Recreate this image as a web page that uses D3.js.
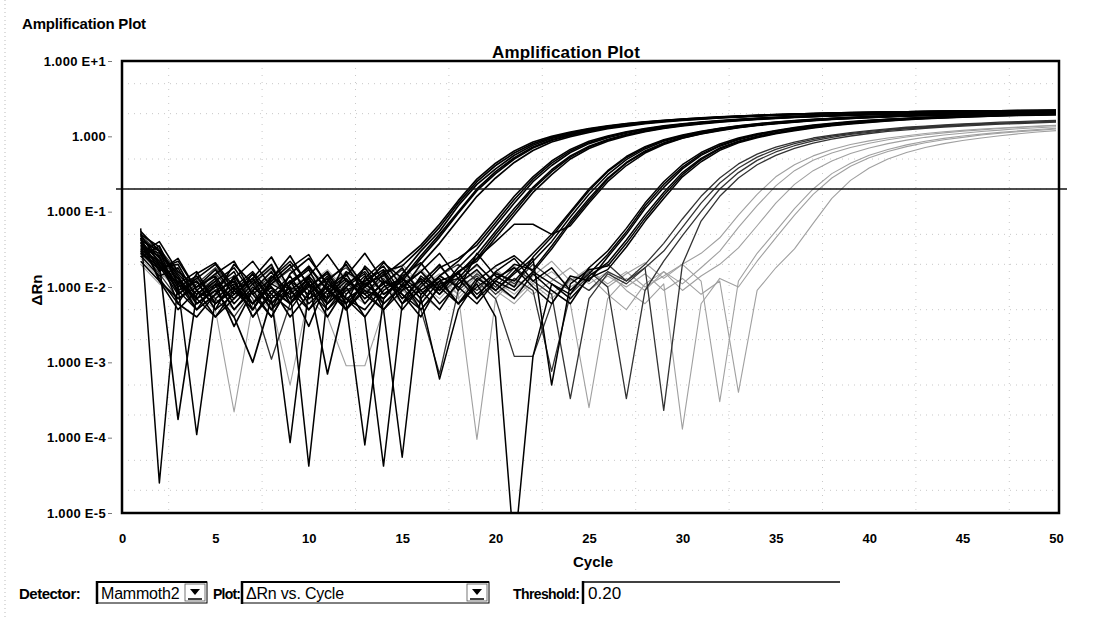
<!DOCTYPE html>
<meta charset="utf-8">
<script src="https://d3js.org/d3.v7.min.js"></script>
<style>
body { margin: 0; background: #fff; }
text { font-family: "Liberation Sans", Arial, sans-serif; }
.tick text { font-weight: bold; font-size: 13px; fill: #000; }
.ctl text { font-family: "Liberation Sans Narrow", "Liberation Sans", Arial, sans-serif; }
</style>
<body>
<script>

// Cycle numbers (x categories)
var cycles = [1,2,3,4,5,6,7,8,9,10,11,12,13,14,15,16,17,18,19,20,21,22,23,24,25,
              26,27,28,29,30,31,32,33,34,35,36,37,38,39,40,41,42,43,44,45,46,47,48,49,50];

// Delta Rn readings, one row per well, grouped by rough Ct
var group1Rn = [
  [.055,.03,.014,.006,.009,.004,.001,.007,.012,.005,.009,.006,.011,.014,.022,.036,.068,.14,.27,.44,.64,.84,1.0,1.14,1.27,1.38,1.48,1.56,1.63,1.7,1.76,1.81,1.86,1.9,1.94,1.98,2.01,2.04,2.06,2.08,2.1,2.12,2.14,2.15,2.16,2.17,2.18,2.19,2.2,2.21],
  [.04,.022,.009,.012,.005,.014,.006,.01,.004,.008,.013,.005,.009,.007,.015,.03,.055,.12,.23,.37,.56,.76,.94,1.08,1.22,1.33,1.44,1.53,1.61,1.67,1.73,1.79,1.84,1.89,1.93,1.97,2.0,2.03,2.05,2.07,2.09,2.11,2.13,2.15,2.16,2.17,2.18,2.19,2.2,2.21],
  [.03,.018,.02,.007,.011,.003,.009,.016,.006,.011,.004,.01,.018,.008,.012,.024,.046,.095,.19,.32,.5,.7,.88,1.03,1.17,1.29,1.4,1.5,1.58,1.65,1.71,1.77,1.82,1.87,1.91,1.95,1.98,2.01,2.04,2.06,2.08,2.1,2.12,2.14,2.15,2.16,2.17,2.18,2.19,2.2],
  [.025,.035,.011,.016,.006,.01,.005,.012,.02,.007,.01,.015,.006,.012,.009,.02,.038,.078,.16,.28,.45,.65,.84,.99,1.13,1.26,1.37,1.47,1.55,1.63,1.69,1.75,1.8,1.85,1.9,1.94,1.97,2.0,2.03,2.05,2.07,2.09,2.11,2.13,2.14,2.15,2.16,2.17,2.18,2.19],
  [.045,.012,.007,.01,.017,.008,.013,.025,.009,.014,.007,.022,.01,.016,.019,.033,.062,.13,.25,.41,.6,.8,.97,1.11,1.25,1.36,1.46,1.55,1.62,1.69,1.75,1.8,1.85,1.9,1.94,1.97,2.0,2.03,2.06,2.08,2.1,2.12,2.13,2.15,2.16,2.17,2.18,2.19,2.2,2.21],
  [.033,.026,.006,.004,.008,.02,.011,.005,.015,.024,.011,.007,.005,.01,.013,.026,.05,.1,.2,.34,.52,.72,.9,1.05,1.19,1.31,1.42,1.51,1.59,1.66,1.72,1.78,1.83,1.88,1.92,1.96,1.99,2.02,2.05,2.07,2.09,2.11,2.13,2.14,2.15,2.16,2.17,2.18,2.19,2.2]
];
var group2Rn = [
  [.05,.02,.000175,.008,.012,.005,.009,.004,.011,.017,.006,.01,.004,.009,.013,.007,.014,.022,.04,.08,.16,.29,.47,.67,.86,1.01,1.15,1.27,1.38,1.47,1.55,1.62,1.68,1.74,1.79,1.84,1.88,1.92,1.95,1.98,2.01,2.03,2.05,2.07,2.09,2.11,2.12,2.13,2.14,2.15],
  [.035,.028,.013,.005,.008,.013,.004,.009,.006,.012,.0007,.008,.014,.006,.01,.016,.009,.018,.032,.065,.13,.25,.41,.61,.8,.96,1.1,1.23,1.34,1.44,1.52,1.59,1.66,1.72,1.77,1.82,1.86,1.9,1.93,1.96,1.99,2.01,2.03,2.05,2.07,2.09,2.1,2.11,2.12,2.13],
  [.045,.016,.024,.009,.004,.007,.015,.006,.01,.003,.012,.02,.008,.005,.011,.006,.012,.015,.027,.055,.11,.21,.36,.55,.74,.91,1.06,1.19,1.31,1.41,1.49,1.57,1.64,1.7,1.75,1.8,1.84,1.88,1.92,1.95,1.98,2.0,2.02,2.04,2.06,2.08,2.09,2.1,2.11,2.12],
  [.028,.04,.016,.01,.014,.006,.011,.018,.007,.013,.005,.009,.012,.017,.007,.013,.008,.016,.022,.045,.09,.18,.31,.5,.69,.86,1.01,1.15,1.27,1.37,1.46,1.54,1.61,1.67,1.73,1.78,1.82,1.86,1.9,1.93,1.96,1.99,2.01,2.03,2.05,2.07,2.08,2.09,2.1,2.11],
  [.042,.03,.008,.013,.02,.009,.005,.013,.026,.01,.016,.006,.019,.011,.005,.01,.018,.024,.036,.072,.145,.27,.44,.64,.83,.99,1.13,1.25,1.36,1.45,1.53,1.6,1.67,1.73,1.78,1.83,1.87,1.91,1.94,1.97,2.0,2.02,2.04,2.06,2.08,2.1,2.11,2.12,2.13,2.14],
  [.022,.012,.005,.009,.015,.022,.008,.004,.011,.019,.009,.014,.028,.012,.008,.004,.011,.013,.024,.05,.1,.2,.34,.53,.72,.89,1.04,1.17,1.29,1.39,1.48,1.56,1.63,1.69,1.74,1.79,1.83,1.87,1.91,1.94,1.97,1.99,2.01,2.03,2.05,2.07,2.08,2.09,2.1,2.11]
];
var group3Rn = [
  [.06,.000025,.012,.007,.01,.016,.005,.011,.008,.013,.006,.01,.015,.005,.009,.012,.006,.011,.017,.009,.016,.028,.05,.1,.2,.35,.54,.73,.9,1.04,1.17,1.28,1.38,1.47,1.55,1.62,1.68,1.74,1.79,1.84,1.88,1.92,1.95,1.98,2.01,2.03,2.05,2.07,2.09,2.1],
  [.038,.025,.01,.014,.006,.009,.013,.005,.009,.000042,.008,.013,.007,.011,.018,.008,.012,.006,.01,.015,.012,.022,.04,.085,.17,.31,.49,.68,.86,1.0,1.13,1.25,1.35,1.44,1.52,1.59,1.66,1.72,1.77,1.82,1.86,1.9,1.93,1.96,1.99,2.01,2.03,2.05,2.07,2.08],
  [.032,.02,.009,.005,.011,.007,.012,.02,.006,.01,.015,.007,.004,.000042,.006,.014,.009,.016,.007,.012,.02,.017,.035,.075,.15,.28,.45,.64,.82,.97,1.1,1.22,1.32,1.41,1.49,1.56,1.63,1.69,1.74,1.79,1.83,1.87,1.9,1.93,1.96,1.98,2.0,2.02,2.04,2.05],
  [.026,.014,.018,.006,.009,.012,.004,.008,.014,.006,.01,.005,.012,.019,.008,.005,.01,.016,.024,.04,.068,.068,.05,.065,.13,.25,.41,.6,.78,.94,1.07,1.19,1.3,1.39,1.47,1.54,1.61,1.67,1.72,1.77,1.81,1.85,1.88,1.91,1.94,1.96,1.98,2.0,2.02,2.03],
  [.05,.034,.011,.005,.008,.013,.022,.01,.006,.014,.027,.012,.008,.015,.006,.011,.02,.009,.028,.014,.01,.025,.046,.095,.19,.34,.52,.71,.88,1.02,1.15,1.27,1.37,1.46,1.54,1.61,1.67,1.73,1.78,1.83,1.87,1.91,1.94,1.97,2.0,2.02,2.04,2.06,2.08,2.09],
  [.028,.019,.013,.007,.004,.009,.015,.007,.012,.018,.009,.005,.01,.021,.013,.007,.0006,.005,.012,.019,.026,.016,.032,.07,.14,.27,.44,.62,.8,.95,1.08,1.2,1.31,1.4,1.48,1.55,1.62,1.68,1.73,1.78,1.82,1.86,1.89,1.92,1.95,1.97,1.99,2.01,2.03,2.04]
];
var group4Rn = [
  [.048,.024,.01,.00011,.007,.011,.006,.014,.009,.005,.012,.007,.01,.016,.006,.009,.013,.006,.011,.004,.000003,.0012,.011,.008,.018,.03,.06,.13,.25,.42,.61,.79,.95,1.08,1.2,1.31,1.41,1.49,1.57,1.63,1.69,1.74,1.79,1.83,1.87,1.9,1.93,1.96,1.98,2.0],
  [.036,.019,.008,.012,.005,.008,.013,.007,.000086,.009,.005,.011,.016,.008,.012,.005,.01,.015,.008,.013,.018,.01,.006,.014,.012,.025,.05,.11,.21,.37,.56,.74,.9,1.04,1.16,1.27,1.37,1.46,1.54,1.61,1.67,1.72,1.77,1.81,1.85,1.88,1.91,1.94,1.96,1.98],
  [.042,.03,.015,.008,.013,.005,.01,.006,.012,.008,.014,.006,.00008,.007,.013,.009,.005,.012,.02,.011,.007,.015,.009,.006,.014,.021,.042,.09,.18,.33,.51,.7,.86,1.0,1.12,1.23,1.33,1.42,1.5,1.57,1.63,1.69,1.74,1.78,1.82,1.86,1.89,1.92,1.94,1.96],
  [.028,.017,.022,.009,.006,.01,.016,.008,.005,.011,.007,.012,.009,.005,.000055,.008,.014,.01,.006,.012,.009,.016,.011,.007,.013,.017,.034,.075,.15,.29,.46,.65,.82,.96,1.08,1.19,1.29,1.38,1.46,1.53,1.6,1.66,1.71,1.75,1.79,1.83,1.86,1.89,1.91,1.93],
  [.039,.013,.006,.015,.021,.01,.006,.011,.018,.027,.01,.005,.013,.022,.01,.016,.028,.013,.007,.016,.024,.012,.018,.009,.015,.027,.054,.12,.23,.39,.58,.76,.92,1.06,1.18,1.29,1.39,1.47,1.55,1.62,1.68,1.73,1.78,1.82,1.86,1.89,1.92,1.95,1.97,1.99],
  [.031,.022,.011,.007,.012,.018,.008,.013,.022,.011,.006,.016,.011,.007,.014,.021,.01,.006,.013,.009,.015,.024,.0005,.011,.017,.019,.038,.082,.165,.31,.49,.68,.84,.98,1.1,1.21,1.31,1.4,1.48,1.55,1.61,1.67,1.72,1.76,1.8,1.84,1.87,1.9,1.92,1.94]
];
var group5Rn = [
  [.052,.026,.012,.006,.01,.014,.007,.0011,.006,.012,.008,.013,.007,.011,.017,.009,.014,.02,.012,.007,.0012,.0012,.006,.013,.009,.016,.012,.02,.038,.08,.16,.28,.43,.58,.72,.84,.95,1.04,1.12,1.19,1.26,1.32,1.37,1.42,1.46,1.5,1.54,1.57,1.6,1.63],
  [.034,.021,.009,.013,.007,.004,.009,.014,.007,.01,.016,.008,.012,.006,.01,.005,.0007,.009,.015,.01,.018,.012,.008,.00033,.007,.015,.011,.018,.03,.062,.13,.24,.38,.53,.67,.8,.91,1.01,1.09,1.16,1.23,1.29,1.34,1.39,1.43,1.47,1.5,1.53,1.56,1.59],
  [.044,.032,.016,.01,.015,.008,.012,.005,.01,.007,.013,.018,.01,.006,.011,.016,.008,.013,.009,.016,.011,.02,.013,.009,.016,.01,.00033,.009,.022,.048,.1,.2,.33,.48,.62,.75,.87,.97,1.06,1.13,1.2,1.26,1.31,1.36,1.4,1.44,1.48,1.51,1.54,1.57],
  [.03,.015,.007,.011,.018,.009,.006,.011,.017,.009,.006,.011,.008,.013,.007,.012,.019,.01,.014,.008,.013,.009,.00076,.008,.014,.02,.012,.018,.00023,.02,.075,.16,.28,.42,.56,.69,.81,.92,1.01,1.09,1.16,1.22,1.28,1.33,1.37,1.41,1.45,1.48,1.51,1.54]
];
var group6Rn = [
  [.038,.02,.012,.008,.005,.00022,.006,.012,.008,.015,.01,.006,.012,.009,.014,.02,.011,.007,.013,.018,.01,.015,.009,.006,.00025,.007,.013,.009,.016,.011,.018,.03,.062,.12,.22,.35,.48,.6,.71,.81,.9,.98,1.05,1.11,1.17,1.22,1.27,1.31,1.35,1.39],
  [.024,.013,.017,.009,.013,.007,.011,.017,.01,.007,.004,.0009,.0009,.005,.009,.006,.012,.008,.014,.009,.006,.011,.016,.01,.014,.008,.005,.011,.016,.009,.014,.02,.033,.065,.13,.23,.35,.47,.59,.7,.8,.89,.97,1.04,1.1,1.16,1.21,1.26,1.3,1.34],
  [.032,.018,.01,.006,.01,.014,.008,.005,.01,.014,.008,.012,.007,.011,.006,.01,.015,.008,.000095,.007,.013,.008,.012,.018,.011,.016,.009,.006,.011,.00013,.006,.013,.01,.022,.045,.09,.17,.28,.4,.52,.63,.73,.82,.9,.97,1.04,1.1,1.15,1.2,1.25],
  [.02,.011,.007,.012,.008,.005,.009,.013,.007,.011,.017,.009,.006,.01,.015,.008,.005,.011,.016,.01,.007,.012,.008,.013,.009,.014,.01,.015,.009,.013,.008,.012,.0004,.009,.018,.032,.07,.15,.26,.38,.5,.61,.71,.8,.88,.95,1.02,1.08,1.14,1.19],
  [.027,.016,.009,.014,.009,.006,.012,.019,.009,.006,.011,.016,.009,.013,.02,.011,.007,.013,.019,.012,.008,.014,.022,.012,.018,.01,.015,.021,.013,.02,.028,.045,.09,.17,.29,.42,.55,.67,.78,.87,.95,1.02,1.09,1.15,1.2,1.25,1.29,1.33,1.37,1.4],
  [.035,.024,.014,.009,.007,.012,.009,.006,.0005,.008,.013,.019,.011,.007,.012,.017,.01,.015,.009,.013,.019,.011,.007,.012,.017,.011,.016,.01,.014,.02,.012,.0003,.012,.028,.055,.11,.2,.32,.44,.56,.67,.77,.86,.94,1.01,1.07,1.13,1.18,1.23,1.28]
];

var threshold = 0.20;
var xTicks = [0,5,10,15,20,25,30,35,40,45,50];
var yTicks = [10, 1, 0.1, 0.01, 0.001, 0.0001, 0.00001];
var yTickLabels = ["1.000 E+1","1.000","1.000 E-1","1.000 E-2","1.000 E-3","1.000 E-4","1.000 E-5"];

var width = 1103, height = 618;
var plot = {left: 122, right: 1056, top: 61, bottom: 513};

var svg = d3.select("body").append("svg")
    .attr("width", width)
    .attr("height", height);

var x = d3.scaleLinear().domain([0, 50]).range([plot.left, plot.right]);
var y = d3.scaleLog().domain([1e-5, 10]).range([plot.bottom, plot.top]);

// faint window edge
svg.append("line")
    .attr("x1", 5).attr("x2", 5).attr("y1", 0).attr("y2", height)
    .attr("stroke", "#bbb").attr("stroke-dasharray", "1,3");

svg.append("text")
    .attr("x", 22).attr("y", 29)
    .attr("font-size", "15px").attr("font-weight", "bold")
    .attr("letter-spacing", "-0.2")
    .text("Amplification Plot");

svg.append("text")
    .attr("x", 566).attr("y", 58)
    .attr("text-anchor", "middle")
    .attr("font-size", "17px").attr("font-weight", "bold")
    .attr("letter-spacing", "0.2")
    .text("Amplification Plot");

svg.append("clipPath").attr("id", "clip")
  .append("rect")
    .attr("x", plot.left).attr("y", plot.top)
    .attr("width", x(50) + 3 - plot.left).attr("height", plot.bottom - plot.top);

// light dotted grid, like the scanned original
var grid = svg.append("g").attr("clip-path", "url(#clip)");
var minor = [];
yTicks.slice(1).forEach(function(t) { minor.push(t * 2, t * 5); });
grid.selectAll(".hg").data(minor).enter().append("line")
    .attr("x1", plot.left).attr("x2", x(50))
    .attr("y1", function(d) { return y(d); }).attr("y2", function(d) { return y(d); })
    .attr("stroke", "#c8c8c8").attr("stroke-dasharray", "1,5");
grid.selectAll(".vg").data(d3.range(2.5, 50, 5)).enter().append("line")
    .attr("x1", function(d) { return x(d); }).attr("x2", function(d) { return x(d); })
    .attr("y1", plot.top).attr("y2", plot.bottom)
    .attr("stroke", "#c8c8c8").attr("stroke-dasharray", "1,6");

var line = d3.line()
    .x(function(d, i) { return x(cycles[i]); })
    .y(function(d) { return y(d); });

var groups = [
  {rows: group6Rn, color: "#a0a0a0", w: 1.1},
  {rows: group5Rn, color: "#333", w: 1.3},
  {rows: group4Rn, color: "#000", w: 1.5},
  {rows: group3Rn, color: "#000", w: 1.5},
  {rows: group2Rn, color: "#000", w: 1.6},
  {rows: group1Rn, color: "#000", w: 1.7}
];

var curves = svg.append("g").attr("clip-path", "url(#clip)");
groups.forEach(function(g) {
  curves.selectAll(null).data(g.rows).enter().append("path")
      .attr("d", line)
      .attr("fill", "none")
      .attr("stroke", g.color)
      .attr("stroke-width", g.w)
      .attr("stroke-linejoin", "round");
});

// threshold
svg.append("line")
    .attr("x1", plot.left - 6).attr("x2", x(50) + 11)
    .attr("y1", y(threshold)).attr("y2", y(threshold))
    .attr("stroke", "#111").attr("stroke-width", 1.4);

// frame
svg.append("rect")
    .attr("x", plot.left).attr("y", plot.top)
    .attr("width", x(50) + 3 - plot.left).attr("height", plot.bottom - plot.top)
    .attr("fill", "none").attr("stroke", "#000").attr("stroke-width", 2.5);

var yAxis = d3.axisLeft(y)
    .tickValues(yTicks)
    .tickSize(4)
    .tickPadding(2)
    .tickFormat(function(d, i) { return yTickLabels[i]; });
svg.append("g")
    .attr("transform", "translate(" + (plot.left - 10) + ",0)")
    .call(yAxis)
    .call(function(g) { g.select(".domain").remove(); })
    .call(function(g) { g.selectAll(".tick line").attr("stroke", "#777"); })
    .call(function(g) { g.selectAll(".tick text").attr("font-size", 13).attr("letter-spacing", "0.3"); });

var xAxis = d3.axisBottom(x)
    .tickValues(xTicks)
    .tickSize(0)
    .tickPadding(21);
svg.append("g")
    .attr("transform", "translate(0," + plot.bottom + ")")
    .call(xAxis)
    .call(function(g) { g.select(".domain").remove(); })
    .call(function(g) { g.selectAll(".tick text").attr("font-size", 13); });

svg.append("text")
    .attr("x", 593).attr("y", 567)
    .attr("text-anchor", "middle")
    .attr("font-size", "15px").attr("font-weight", "bold")
    .text("Cycle");

svg.append("text")
    .attr("transform", "translate(42,290) rotate(-90)")
    .attr("text-anchor", "middle")
    .attr("font-size", "15px").attr("font-weight", "bold")
    .text("\u0394Rn");

// bottom control bar
var ctl = svg.append("g").attr("class", "ctl");
var cy = 599;

function dropBox(x0, w, label) {
  ctl.append("rect").attr("x", x0).attr("y", 582).attr("width", w).attr("height", 21)
      .attr("fill", "#fff").attr("stroke", "#000").attr("stroke-width", 1);
  ctl.append("line").attr("x1", x0).attr("x2", x0).attr("y1", 581).attr("y2", 604)
      .attr("stroke", "#000").attr("stroke-width", 2.5);
  ctl.append("line").attr("x1", x0).attr("x2", x0 + w).attr("y1", 582).attr("y2", 582)
      .attr("stroke", "#000").attr("stroke-width", 2);
  ctl.append("text").attr("x", x0 + 4).attr("y", cy)
      .attr("font-size", "16px").attr("letter-spacing", "-0.2").text(label);
  var bx = x0 + w - 22;
  ctl.append("rect").attr("x", bx).attr("y", 584).attr("width", 20).attr("height", 17)
      .attr("fill", "#fff").attr("stroke", "#555").attr("stroke-width", 0.8);
  ctl.append("path")
      .attr("d", "M" + (bx + 5) + ",589 L" + (bx + 15) + ",589 L" + (bx + 10) + ",595 Z")
      .attr("fill", "#000");
  ctl.append("line").attr("x1", bx + 3).attr("x2", bx + 17).attr("y1", 599).attr("y2", 599)
      .attr("stroke", "#000").attr("stroke-width", 1.5);
}

ctl.append("text").attr("x", 19).attr("y", cy)
    .attr("font-size", "15px").attr("font-weight", "bold")
    .attr("letter-spacing", "-0.5").text("Detector:");
dropBox(97, 110, "Mammoth2");
ctl.append("text").attr("x", 213).attr("y", cy)
    .attr("font-size", "14px").attr("font-weight", "bold")
    .attr("letter-spacing", "-0.8").text("Plot:");
dropBox(242, 247, "\u0394Rn vs. Cycle");
ctl.append("text").attr("x", 513).attr("y", cy)
    .attr("font-size", "14px").attr("font-weight", "bold")
    .attr("letter-spacing", "-0.6").text("Threshold:");
ctl.append("line").attr("x1", 583).attr("x2", 583).attr("y1", 581).attr("y2", 604)
    .attr("stroke", "#000").attr("stroke-width", 2.5);
ctl.append("line").attr("x1", 583).attr("x2", 840).attr("y1", 582).attr("y2", 582)
    .attr("stroke", "#000").attr("stroke-width", 1.5);
ctl.append("text").attr("x", 588).attr("y", cy)
    .attr("font-size", "17px").text("0.20");

</script>
</body>
